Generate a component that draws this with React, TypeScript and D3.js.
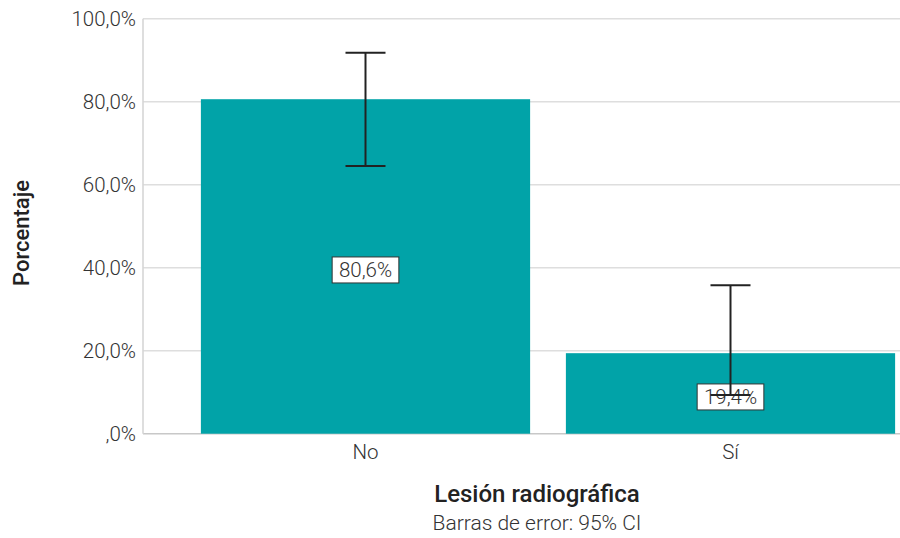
import React from "react";
import * as d3 from "d3";

const categories = ["No", "Sí"];
const values = [80.6, 19.4];
const ciLow = [64.5, 9.3];
const ciHigh = [91.8, 35.8];
const yTicks = [0, 20, 40, 60, 80, 100];
const xTitle = "Lesión radiográfica";
const xSubtitle = "Barras de error: 95% CI";
const yTitle = "Porcentaje";

const W = 900;
const H = 538;
const plotLeft = 143;
const plotRight = 900;
const plotTop = 18.7;
const plotBottom = 433.7;

const fmt = (v: number) => {
  const s = v.toFixed(1).replace(".", ",");
  return (s.startsWith("0,") ? s.slice(1) : s) + "%";
};

export default function App() {
  const y = d3.scaleLinear().domain([0, 100]).range([plotBottom, plotTop]);
  const x = d3
    .scaleBand<string>()
    .domain(categories)
    .range([183, 913])
    .paddingInner(0.098)
    .paddingOuter(0.049);
  const bw = x.bandwidth();
  const font = "Roboto, 'Noto Sans', sans-serif";
  const textColor = "#333333";

  return (
    <svg
      width={W}
      height={H}
      style={{ position: "absolute", left: 0, top: 0, background: "#fff" }}
      fontFamily={font}
    >
      {yTicks.map((t) => (
        <line
          key={"g" + t}
          x1={plotLeft}
          x2={plotRight}
          y1={y(t)}
          y2={y(t)}
          stroke={t === 0 ? "#c8c8c8" : "#dedede"}
          strokeWidth={1.6}
        />
      ))}
      <line x1={plotLeft} x2={plotLeft} y1={plotTop} y2={plotBottom} stroke="#d6d6d6" strokeWidth={1.6} />
      {yTicks.map((t) => (
        <text
          key={"t" + t}
          x={136}
          y={y(t)}
          dy="0.36em"
          textAnchor="end"
          fontSize={20.5}
          fontWeight={300}
          fill={textColor}
        >
          {fmt(t)}
        </text>
      ))}
      {categories.map((c, i) => (
        <rect
          key={"b" + c}
          x={x(c)}
          y={y(values[i])}
          width={bw}
          height={plotBottom - y(values[i])}
          fill="#01A3A8"
        />
      ))}
      {categories.map((c, i) => {
        const cx = (x(c) as number) + bw / 2;
        const cy = y(values[i] / 2) + 3.5;
        const bwid = 66.7;
        const bh = 26;
        return (
          <g key={"l" + c}>
            <rect
              x={cx - bwid / 2}
              y={cy - bh / 2}
              width={bwid}
              height={bh}
              fill="#ffffff"
              stroke="#333333"
              strokeWidth={1}
            />
            <text
              x={cx}
              y={cy}
              dy="0.36em"
              textAnchor="middle"
              fontSize={20.5}
              fontWeight={300}
              fill={textColor}
            >
              {fmt(values[i])}
            </text>
          </g>
        );
      })}
      {categories.map((c, i) => {
        const cx = (x(c) as number) + bw / 2;
        return (
          <g key={"e" + c} stroke="#222222" strokeWidth={2}>
            <line x1={cx} x2={cx} y1={y(ciLow[i])} y2={y(ciHigh[i])} />
            <line x1={cx - 20} x2={cx + 20} y1={y(ciLow[i])} y2={y(ciLow[i])} />
            <line x1={cx - 20} x2={cx + 20} y1={y(ciHigh[i])} y2={y(ciHigh[i])} />
          </g>
        );
      })}
      {categories.map((c) => (
        <text
          key={"x" + c}
          x={(x(c) as number) + bw / 2}
          y={459}
          textAnchor="middle"
          fontSize={20.5}
          fontWeight={300}
          fill={textColor}
        >
          {c}
        </text>
      ))}
      <text x={537} y={502} textAnchor="middle" fontSize={24} fontWeight={500} fill="#222">
        {xTitle}
      </text>
      <text x={537} y={530} textAnchor="middle" fontSize={21} fontWeight={300} fill={textColor}>
        {xSubtitle}
      </text>
      <text
        transform="translate(29,233) rotate(-90)"
        textAnchor="middle"
        fontSize={22}
        fontWeight={500}
        fill="#222"
      >
        {yTitle}
      </text>
    </svg>
  );
}
